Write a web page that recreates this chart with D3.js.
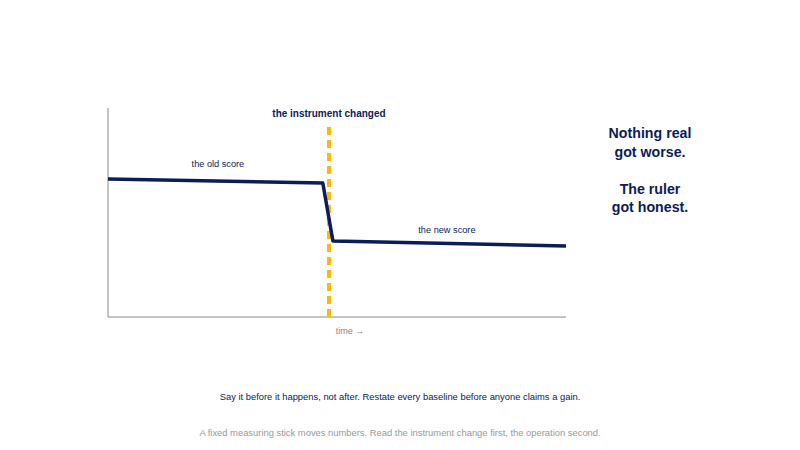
<!DOCTYPE html>
<html><head><meta charset="utf-8">
<script src="https://cdn.jsdelivr.net/npm/d3@7"></script>
<style>body{margin:0;background:#fff;}svg{display:block;font-family:"Liberation Sans",Arial,sans-serif;}</style>
</head><body>
<script>
const timeX = [0, 46.9, 49.1, 100];
const scoreY = [66.0, 64.1, 36.4, 34.0];
const changeAt = 48.25;
const labels = [
  {text: "the old score", x: 24, y: 72},
  {text: "the new score", x: 74, y: 40}
];
const sideLines = ["Nothing real", "got worse.", "", "The ruler", "got honest."];

const W = 800, H = 450;
const navy = "#0b1c58";
const svg = d3.select("body").append("svg").attr("width", W).attr("height", H);
const x = d3.scaleLinear().domain([0, 100]).range([108, 566]);
const y = d3.scaleLinear().domain([0, 100]).range([317, 108]);

svg.append("line").attr("x1", x(0)).attr("x2", x(0)).attr("y1", y(0)).attr("y2", y(100))
  .attr("stroke", "#888").attr("stroke-width", 1);
svg.append("line").attr("x1", x(0)).attr("x2", x(100)).attr("y1", y(0)).attr("y2", y(0))
  .attr("stroke", "#888").attr("stroke-width", 1);

svg.append("line").attr("x1", x(changeAt)).attr("x2", x(changeAt)).attr("y1", y(0)).attr("y2", y(92))
  .attr("stroke", "#FFB900").attr("stroke-width", 4).attr("stroke-dasharray", "8,5");

const pts = timeX.map((t, i) => [t, scoreY[i]]);
svg.append("path").datum(pts)
  .attr("d", d3.line().x(d => x(d[0])).y(d => y(d[1])))
  .attr("fill", "none").attr("stroke", navy).attr("stroke-width", 3.5).attr("stroke-linejoin", "round");

svg.append("text").attr("x", x(changeAt)).attr("y", 117).attr("text-anchor", "middle")
  .attr("font-size", 10).attr("font-weight", "bold").attr("fill", navy).text("the instrument changed");

labels.forEach(l => svg.append("text").attr("x", x(l.x)).attr("y", y(l.y)).attr("text-anchor", "middle")
  .attr("font-size", 9.2).attr("fill", navy).text(l.text));

svg.append("text").attr("x", 350).attr("y", 334).attr("text-anchor", "middle")
  .attr("font-size", 9).attr("fill", "#888").text("time →");

const side = svg.append("text").attr("text-anchor", "middle").attr("font-size", 14.2)
  .attr("font-weight", "bold").attr("fill", navy);
sideLines.forEach((s, i) => side.append("tspan").attr("x", 650).attr("y", 138 + i * 18.5).text(s));

svg.append("text").attr("x", 400).attr("y", 400).attr("text-anchor", "middle")
  .attr("font-size", 9.4).attr("fill", navy)
  .text("Say it before it happens, not after. Restate every baseline before anyone claims a gain.");
svg.append("text").attr("x", 400).attr("y", 436).attr("text-anchor", "middle")
  .attr("font-size", 9.4).attr("fill", "#999")
  .text("A fixed measuring stick moves numbers. Read the instrument change first, the operation second.");
</script>
</body></html>
